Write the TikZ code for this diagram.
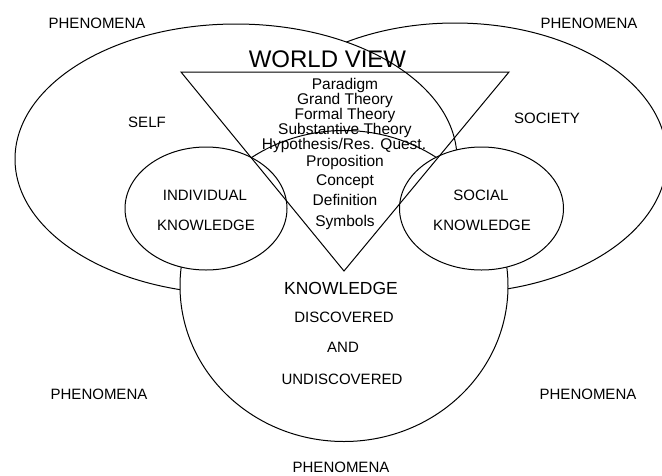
\documentclass[tikz,border=0pt]{standalone}
\usepackage{fontspec}
\setmainfont{Liberation Sans}
\usetikzlibrary{shapes.geometric}
\begin{document}
\begin{tikzpicture}
[x=1pt, y=-1pt,
setnode/.style={ellipse, draw=black, fill=white, line width=1pt, inner sep=0pt, outer sep=0pt},
labelnode/.style={anchor=base, inner sep=0pt, font=\fontsize{15}{15}\selectfont},
levelnode/.style={anchor=base, inner sep=0pt, font=\fontsize{15.5}{15.5}\selectfont}]
\useasboundingbox (0,0) rectangle (662,475);
% the three large sets
\node[setnode, minimum width=424pt, minimum height=270pt] (society) at (455,158) {};
\node[setnode, minimum width=442pt, minimum height=270pt] (self) at (236,159) {};
\node[setnode, minimum width=328pt, minimum height=311pt] (knowledge) at (344,286) {};
\node[setnode, minimum width=162pt, minimum height=123pt] (individual) at (206,208.5) {};
\node[setnode, minimum width=164pt, minimum height=123pt] (social) at (481.5,208.5) {};
% the world view triangle
\coordinate (tleft) at (181,72);
\coordinate (tright) at (509,72);
\coordinate (tapex) at (344,271);
\draw[line width=1pt] (tleft) -- (tright) -- (tapex) -- cycle;
\node[anchor=base, inner sep=0pt, font=\fontsize{24}{24}\selectfont] (worldview) at (327.5,67) {WORLD VIEW};
\node[levelnode] (paradigm) at (345,89) {Paradigm};
\node[levelnode] (grand) at (345,104) {Grand Theory};
\node[levelnode] (formal) at (345,119.5) {Formal Theory};
\node[levelnode] (substantive) at (345,134.5) {Substantive Theory};
\node[levelnode] (hypothesis) at (344,149.5) {Hypothesis/Res. Quest.};
\node[levelnode] (proposition) at (345,166.5) {Proposition};
\node[levelnode] (concept) at (345,185) {Concept};
\node[levelnode] (definition) at (345,205) {Definition};
\node[levelnode] (symbols) at (345,226) {Symbols};
% labels
\node[labelnode] (phentl) at (97,28) {PHENOMENA};
\node[labelnode] (phentr) at (589,28) {PHENOMENA};
\node[labelnode] (selflabel) at (147,127) {SELF};
\node[labelnode] (societylabel) at (547,123) {SOCIETY};
\node[labelnode] (indiv1) at (205,200) {INDIVIDUAL};
\node[labelnode] (indiv2) at (206,230) {KNOWLEDGE};
\node[labelnode] (social1) at (481,200) {SOCIAL};
\node[labelnode] (social2) at (482,230) {KNOWLEDGE};
\node[anchor=base, inner sep=0pt, font=\fontsize{17.5}{17.5}\selectfont] (know1) at (341,294) {KNOWLEDGE};
\node[labelnode] (know2) at (344,322) {DISCOVERED};
\node[labelnode] (know3) at (343,352) {AND};
\node[labelnode] (know4) at (342,384) {UNDISCOVERED};
\node[labelnode] (phenbl) at (99,399) {PHENOMENA};
\node[labelnode] (phenbr) at (588,399) {PHENOMENA};
\node[labelnode] (phenb) at (341,472) {PHENOMENA};
\end{tikzpicture}
\end{document}
